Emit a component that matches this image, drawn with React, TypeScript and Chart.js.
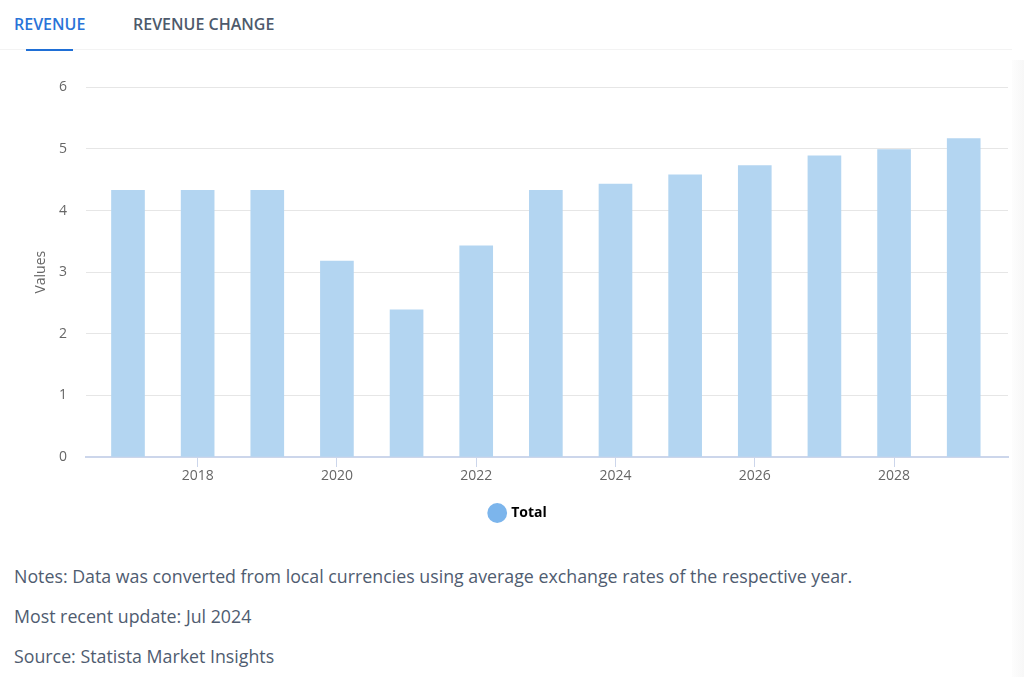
import React, { useEffect, useRef } from "react";
import { Chart, registerables } from "chart.js";

Chart.register(...registerables);

const years = [2017, 2018, 2019, 2020, 2021, 2022, 2023, 2024, 2025, 2026, 2027, 2028, 2029];
const totals = [4.33, 4.33, 4.33, 3.18, 2.39, 3.43, 4.33, 4.43, 4.58, 4.73, 4.89, 4.99, 5.17];
const seriesLabel = "Total";
const tabs = ["REVENUE", "REVENUE CHANGE"];
const notes = [
  "Notes: Data was converted from local currencies using average exchange rates of the respective year.",
  "Most recent update: Jul 2024",
  "Source: Statista Market Insights",
];

const FONT = "'Open Sans', 'Noto Sans', sans-serif";

function RevenueChart() {
  const ref = useRef<HTMLCanvasElement | null>(null);
  useEffect(() => {
    if (!ref.current) return;
    const chart = new Chart(ref.current, {
      type: "bar",
      data: {
        datasets: [
          {
            label: seriesLabel,
            data: years.map((y, i) => ({ x: y, y: totals[i] })),
            backgroundColor: "#b3d5f1",
            borderWidth: 0,
            barThickness: 33,
          },
        ],
      },
      options: {
        animation: false,
        responsive: false,
        maintainAspectRatio: false,
        layout: { padding: { left: 29, right: 2, top: 27, bottom: 0 } },
        plugins: {
          tooltip: { enabled: false },
          legend: {
            position: "bottom",
            labels: {
              usePointStyle: true,
              pointStyle: "circle",
              boxWidth: 14,
              boxHeight: 14,
              padding: 10,
              color: "#333333",
              font: { family: FONT, size: 14, weight: "bold" },
              generateLabels: () => [
                {
                  text: seriesLabel,
                  fillStyle: "#7cb5ec",
                  strokeStyle: "#7cb5ec",
                  lineWidth: 0,
                  pointStyle: "circle",
                  hidden: false,
                  datasetIndex: 0,
                },
              ],
            },
          },
        },
        scales: {
          x: {
            type: "linear",
            min: 2016.397,
            max: 2029.636,
            offset: false,
            afterFit: (s: any) => {
              s.height = 39;
            },
            ticks: {
              stepSize: 2,
              includeBounds: false,
              padding: 1,
              color: "#666666",
              font: { family: FONT, size: 14 },
              callback: (v: any) => String(v),
              maxRotation: 0,
            },
            grid: {
              offset: false,
              drawOnChartArea: false,
              drawTicks: true,
              tickLength: 10,
              tickColor: "#ccd6eb",
              tickWidth: 1,
            },
            border: { display: true, color: "#ccd6eb", width: 2 },
          },
          y: {
            min: 0,
            max: 6,
            afterFit: (s: any) => {
              s.width = 57;
            },
            ticks: {
              stepSize: 1,
              padding: 19,
              color: "#666666",
              font: { family: FONT, size: 14 },
            },
            grid: { color: "#e6e6e6", drawTicks: false, lineWidth: 1 },
            border: { display: false },
            title: {
              display: true,
              text: "Values",
              color: "#666666",
              font: { family: FONT, size: 14 },
              padding: { top: 4, bottom: 0 },
            },
          },
        },
      },
    });
    return () => chart.destroy();
  }, []);
  return <canvas ref={ref} width={1010} height={470} style={{ position: "absolute", left: 0, top: 60, width: 1010, height: 470 }} />;
}

export default function App() {
  return (
    <div
      style={{
        position: "fixed",
        left: 0,
        top: 0,
        width: 1024,
        height: 677,
        background: "#ffffff",
        overflow: "hidden",
        fontFamily: FONT,
      }}
    >
      <div style={{ position: "absolute", left: 1012, top: 60, width: 12, height: 617, background: "linear-gradient(to right, #fdfdfd, #f7f7f7)" }} />
      <div style={{ position: "absolute", left: 0, top: 49, width: 1012, height: 1, background: "#f3f3f3" }} />
      <div
        style={{
          position: "absolute",
          left: 14,
          top: 13,
          fontSize: 16,
          fontWeight: 600,
          color: "#2a74d8",
          lineHeight: "22px",
          whiteSpace: "nowrap",
        }}
      >
        {tabs[0]}
      </div>
      <div style={{ position: "absolute", left: 26, top: 49, width: 47, height: 2, background: "#1f6fd6" }} />
      <div
        style={{
          position: "absolute",
          left: 133,
          top: 13,
          fontSize: 16,
          fontWeight: 600,
          color: "#4d5a6c",
          lineHeight: "22px",
          whiteSpace: "nowrap",
        }}
      >
        {tabs[1]}
      </div>
      <RevenueChart />
      {notes.map((t, i) => (
        <div
          key={i}
          style={{
            position: "absolute",
            left: 14,
            top: 564 + i * 40,
            fontSize: 17.8,
            color: "#4f5c70",
            lineHeight: "24px",
            whiteSpace: "nowrap",
          }}
        >
          {t}
        </div>
      ))}
    </div>
  );
}
